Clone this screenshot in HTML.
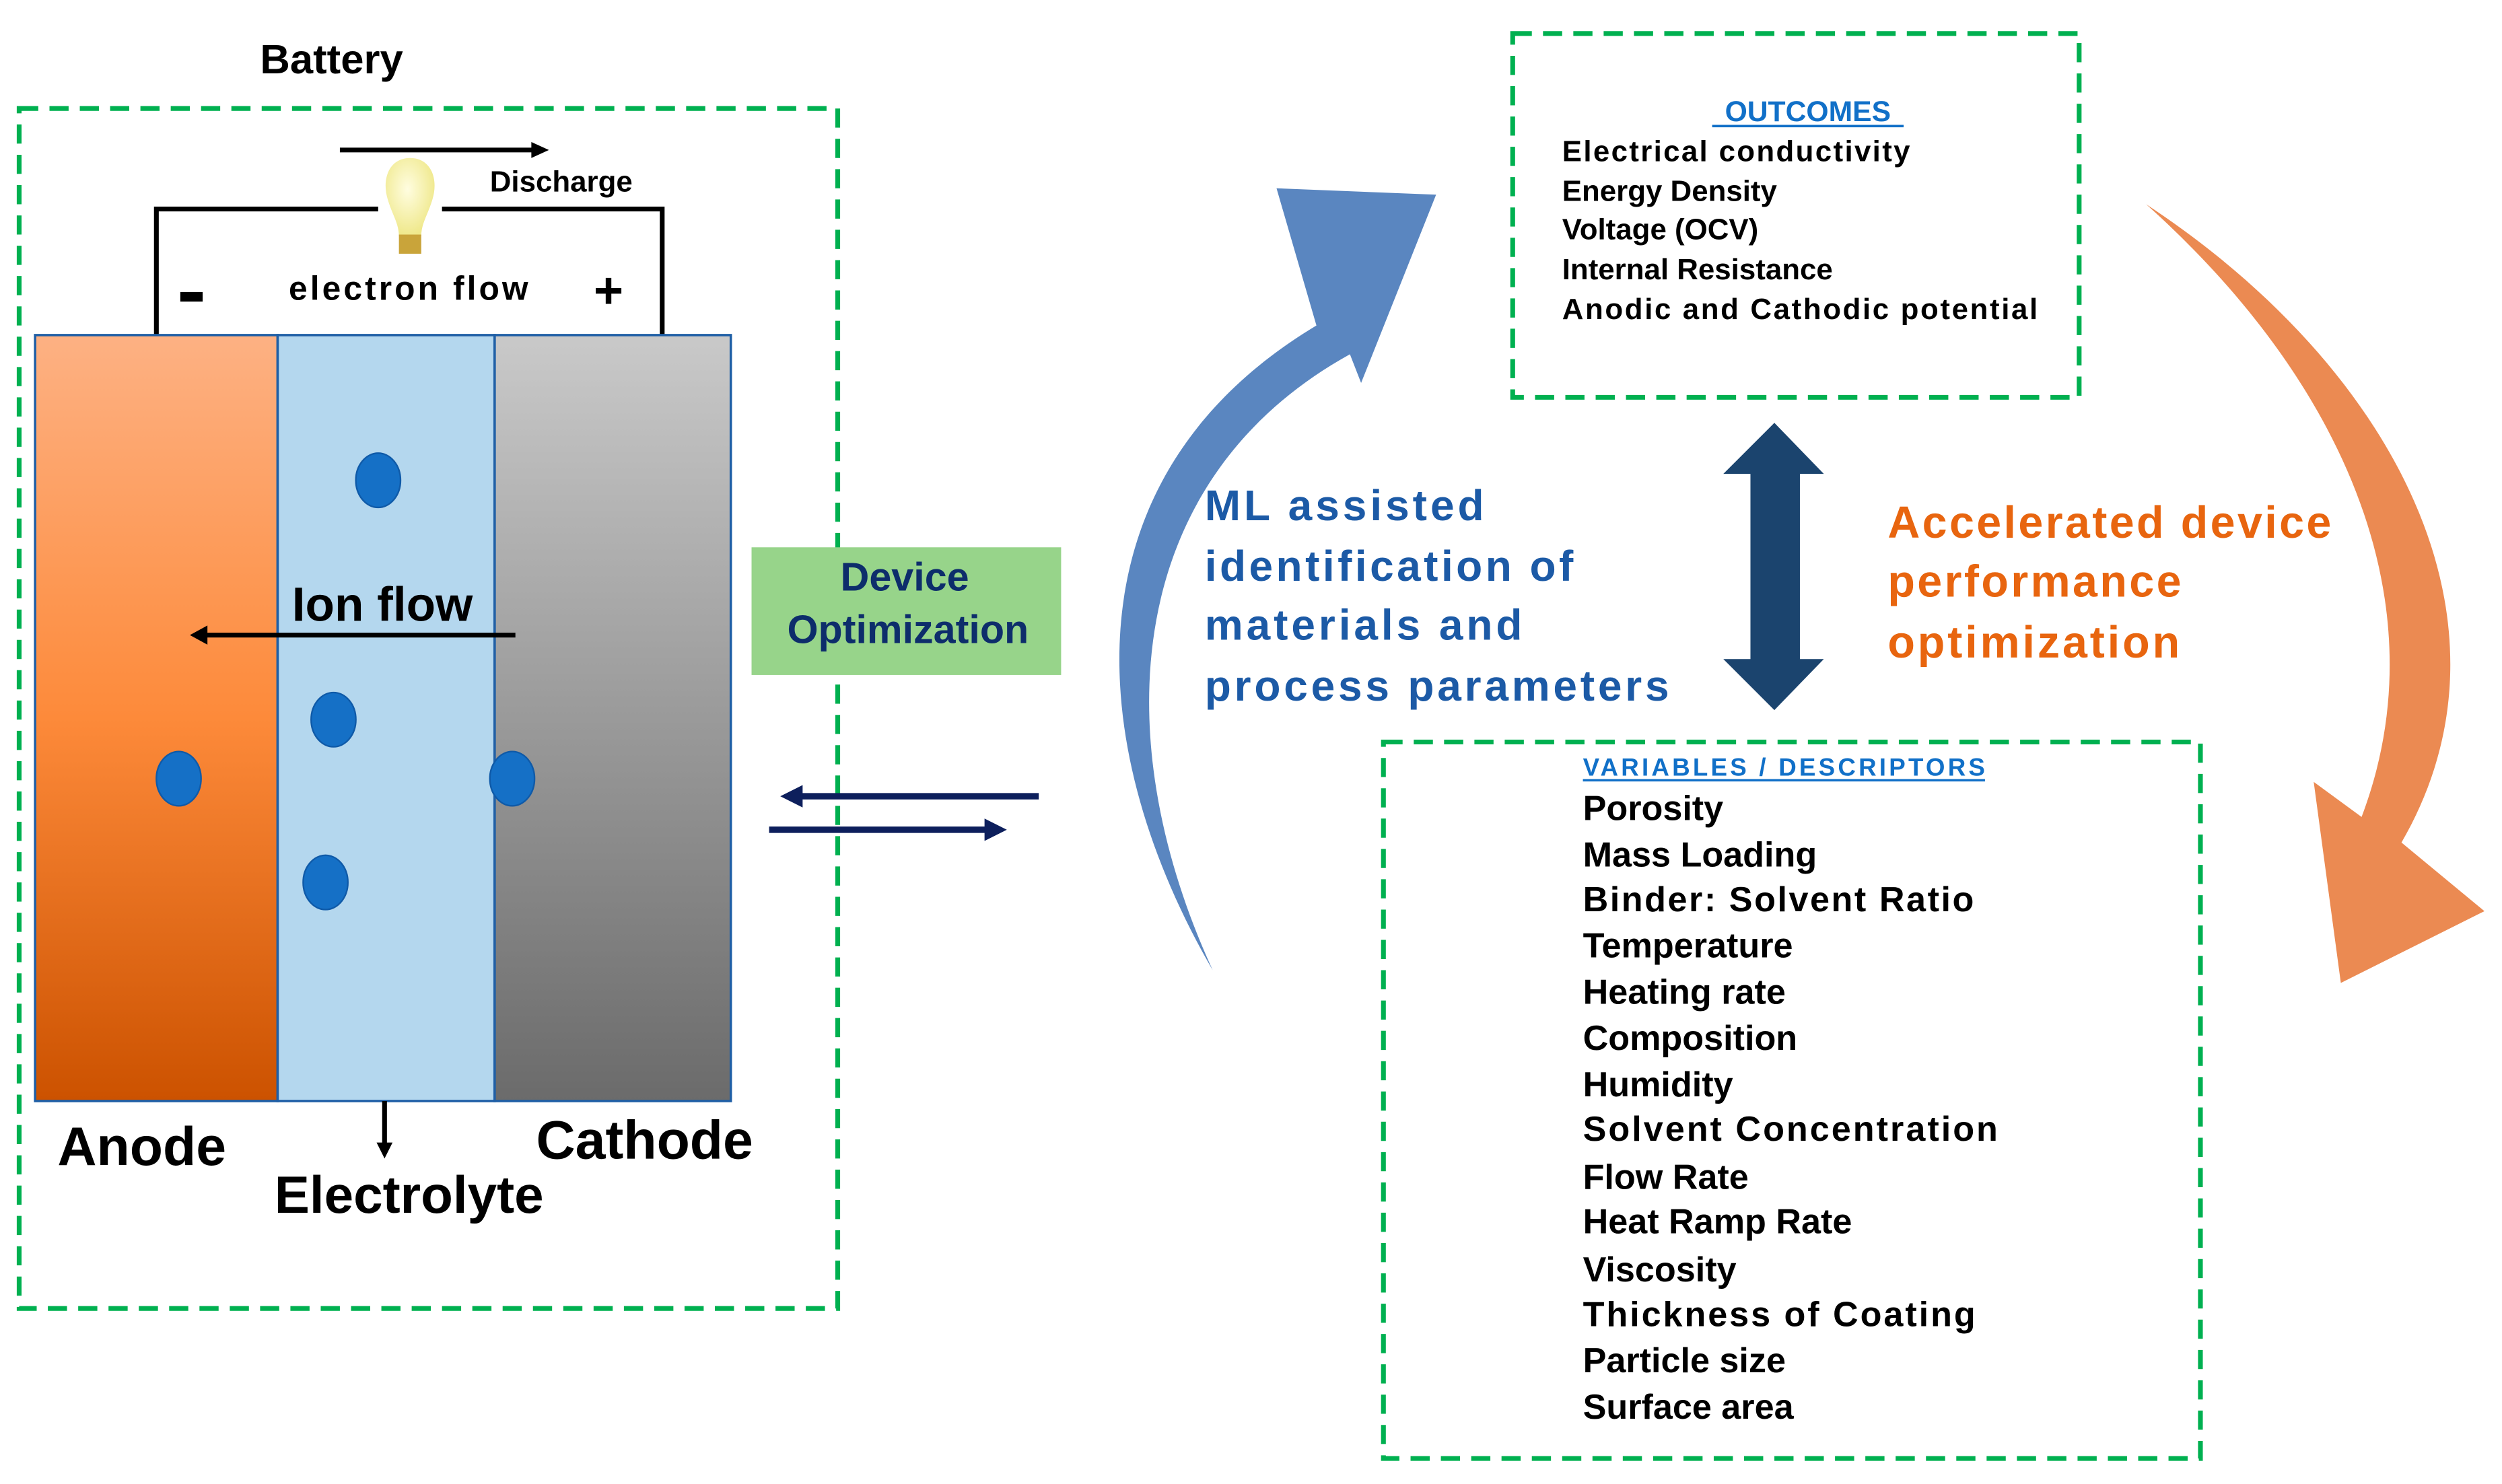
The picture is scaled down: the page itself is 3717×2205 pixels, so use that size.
<!DOCTYPE html>
<html><head><meta charset="utf-8"><style>
html,body{margin:0;padding:0;background:#fff}
svg{display:block}
text{font-family:"Liberation Sans",Arial,sans-serif;font-weight:bold}
</style></head><body>
<svg width="3717" height="2205" viewBox="0 0 1568 930" preserveAspectRatio="none" xmlns="http://www.w3.org/2000/svg">
<defs>
<linearGradient id="an" x1="0" y1="0" x2="0" y2="1"><stop offset="0" stop-color="#fdb183"/><stop offset="0.5" stop-color="#fd8a3a"/><stop offset="1" stop-color="#cc5200"/></linearGradient>
<linearGradient id="ca" x1="0" y1="0" x2="0" y2="1"><stop offset="0" stop-color="#c9c9c9"/><stop offset="1" stop-color="#6b6b6b"/></linearGradient>
<radialGradient id="bulb" cx="0.45" cy="0.4" r="0.6"><stop offset="0" stop-color="#fffde0"/><stop offset="1" stop-color="#efe88a"/></radialGradient>
</defs>
<g fill="none" stroke="#00b050" stroke-width="3" stroke-dasharray="12,7">
<rect x="12" y="68" width="513" height="752"/>
<rect x="948" y="21" width="355" height="228"/>
<rect x="867" y="465" width="512" height="449"/>
</g>
<text x="163" y="46" font-size="26">Battery</text>
<polyline points="98,210 98,131 415,131 415,210" fill="none" stroke="#000" stroke-width="3"/>
<rect x="237" y="120" width="40" height="20" fill="#fff"/>
<path d="M257,99 C270,99 275,112 271,125 C268,135 264,140 264,148 L250,148 C250,140 246,135 243,125 C239,112 244,99 257,99Z" fill="url(#bulb)"/>
<rect x="250" y="147" width="14" height="12" fill="#c9a43a"/>
<line x1="213" y1="94" x2="335" y2="94" stroke="#000" stroke-width="3"/>
<polygon points="333,89 344,94 333,99" fill="#000"/>
<text x="307" y="120" font-size="18.5">Discharge</text>
<text x="181" y="188" font-size="21" textLength="150">electron flow</text>
<rect x="113" y="183" width="14" height="6" fill="#000"/>
<text x="372" y="193" font-size="32">+</text>
<rect x="22" y="210" width="152" height="480" fill="url(#an)" stroke="#1f5fa6" stroke-width="1.5"/>
<rect x="174" y="210" width="136" height="480" fill="#b4d7ee" stroke="#1f5fa6" stroke-width="1.5"/>
<rect x="310" y="210" width="148" height="480" fill="url(#ca)" stroke="#1f5fa6" stroke-width="1.5"/>
<g fill="#1570c6" stroke="#0f5aa8" stroke-width="1">
<ellipse cx="237" cy="301" rx="14" ry="17"/>
<ellipse cx="209" cy="451" rx="14" ry="17"/>
<ellipse cx="112" cy="488" rx="14" ry="17"/>
<ellipse cx="321" cy="488" rx="14" ry="17"/>
<ellipse cx="204" cy="553" rx="14" ry="17"/>
</g>
<text x="183" y="389" font-size="30">Ion flow</text>
<line x1="323" y1="398" x2="128" y2="398" stroke="#000" stroke-width="3"/>
<polygon points="130,392 119,398 130,404" fill="#000"/>
<line x1="241" y1="690" x2="241" y2="718" stroke="#000" stroke-width="3"/>
<polygon points="236,716 241,726 246,716" fill="#000"/>
<text x="36" y="730" font-size="34">Anode</text>
<text x="336" y="726" font-size="34">Cathode</text>
<text x="172" y="760" font-size="33">Electrolyte</text>
<rect x="471" y="343" width="194" height="80" fill="#97d48a"/>
<text x="567" y="370" font-size="25" fill="#0d2d6b" text-anchor="middle">Device</text>
<text x="569" y="403" font-size="25" fill="#0d2d6b" text-anchor="middle">Optimization</text>
<line x1="651" y1="499" x2="500" y2="499" stroke="#0d1f5c" stroke-width="4"/>
<polygon points="503,492 489,499 503,506" fill="#0d1f5c"/>
<line x1="482" y1="520" x2="620" y2="520" stroke="#0d1f5c" stroke-width="4"/>
<polygon points="617,513 631,520 617,527" fill="#0d1f5c"/>
<path d="M760,608 C680,470 665,300 825,204 L800,118 L900,122 L853,240 L846,222 C705,300 692,460 760,608Z" fill="#5a86c0"/>
<path d="M1345,128 C1500,230 1585,390 1505,528 L1557,571 L1467,616 L1450,490 L1480,512 C1530,380 1470,240 1345,128Z" fill="#eb8a52"/>
<polygon points="1112,265 1143,297 1128,297 1128,413 1143,413 1112,445 1080,413 1097,413 1097,297 1080,297" fill="#1b446e"/>
<text x="1133" y="76" font-size="18" fill="#1170c8" text-anchor="middle">OUTCOMES</text>
<line x1="1073" y1="79" x2="1193" y2="79" stroke="#1170c8" stroke-width="1.5"/>
<g font-size="18.5" fill="#000">
<text x="979" y="101" textLength="218">Electrical conductivity</text>
<text x="979" y="126">Energy Density</text>
<text x="979" y="150">Voltage (OCV)</text>
<text x="979" y="175">Internal Resistance</text>
<text x="979" y="200" textLength="298">Anodic and Cathodic potential</text>
</g>
<g font-size="27" fill="#1c5aa6">
<text x="755" y="326" textLength="175">ML assisted</text>
<text x="755" y="364" textLength="231">identification of</text>
<text x="755" y="401" textLength="199">materials and</text>
<text x="755" y="439" textLength="291">process parameters</text>
</g>
<g font-size="28" fill="#e8650f">
<text x="1183" y="337" textLength="278">Accelerated device</text>
<text x="1183" y="374" textLength="184">performance</text>
<text x="1183" y="412" textLength="183">optimization</text>
</g>
<text x="992" y="486" font-size="15.5" fill="#1170c8" textLength="252">VARIABLES  / DESCRIPTORS</text>
<line x1="992" y1="489" x2="1244" y2="489" stroke="#1170c8" stroke-width="1.5"/>
<g font-size="22" fill="#000">
<text x="992" y="514">Porosity</text>
<text x="992" y="543">Mass Loading</text>
<text x="992" y="571" textLength="245">Binder: Solvent Ratio</text>
<text x="992" y="600">Temperature</text>
<text x="992" y="629">Heating rate</text>
<text x="992" y="658">Composition</text>
<text x="992" y="687">Humidity</text>
<text x="992" y="715" textLength="260">Solvent Concentration</text>
<text x="992" y="745">Flow Rate</text>
<text x="992" y="773">Heat Ramp Rate</text>
<text x="992" y="803">Viscosity</text>
<text x="992" y="831" textLength="246">Thickness of Coating</text>
<text x="992" y="860">Particle size</text>
<text x="992" y="889">Surface area</text>
</g>
</svg>
</body></html>
